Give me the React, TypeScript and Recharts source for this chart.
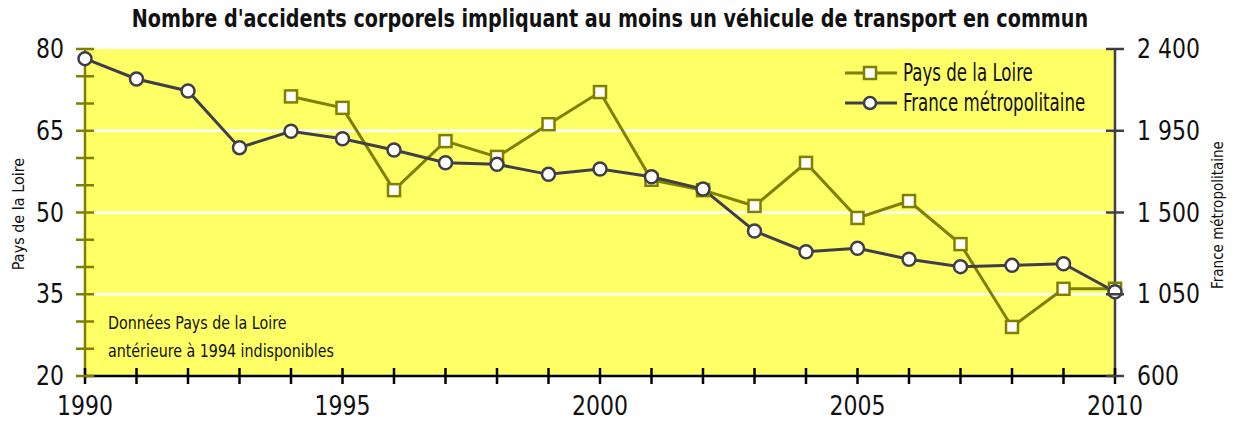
import React from 'react';
import {
  LineChart,
  Line,
  XAxis,
  YAxis,
  ReferenceArea,
  ReferenceLine,
} from 'recharts';

const years = [
  1990, 1991, 1992, 1993, 1994, 1995, 1996, 1997, 1998, 1999, 2000,
  2001, 2002, 2003, 2004, 2005, 2006, 2007, 2008, 2009, 2010,
];
const paysDeLaLoire = [
  null, null, null, null, 71.3, 69.2, 54.1, 63.1, 60.2, 66.2, 72.1,
  56, 54.1, 51.2, 59.1, 49, 52.1, 44.2, 29, 36, 36,
];
const franceMetro = [
  2347, 2235, 2169, 1857, 1947, 1906, 1844, 1774, 1765, 1710, 1739,
  1697, 1629, 1398, 1284, 1303, 1243, 1202, 1209, 1218, 1064,
];
const yearTicks = years;
const leftTicks = [20, 25, 30, 35, 40, 45, 50, 55, 60, 65, 70, 75, 80];
const leftLabels = [20, 35, 50, 65, 80];
const rightTicks = [600, 1050, 1500, 1950, 2400];
const gridValues = [35, 50, 65];

const FONT = '"Liberation Sans Narrow", "DejaVu Sans Condensed", sans-serif';
const OLIVE = '#7f7f00';
const DARK = '#3f3f4a';
const YELLOW = '#ffff66';
const TICK_SX = 0.94;

const data = years.map((year, i) => ({
  year,
  pdl: paysDeLaLoire[i],
  france: franceMetro[i],
}));

const fmtThousands = (v: number) =>
  v >= 1000 ? `${Math.floor(v / 1000)} ${String(v % 1000).padStart(3, '0')}` : String(v);

// tickSize 8 + tickMargin 2 => axis line sits 10px from the tick anchor
const XTick = (props: any) => {
  const { x, y, payload } = props;
  const axisY = y - 10;
  const show = payload.value % 5 === 0;
  return (
    <g>
      <line x1={x} x2={x} y1={axisY - 8} y2={axisY + 8} stroke="#000" strokeWidth={2.5} />
      {show && (
        <text
          transform={`translate(${x},${axisY + 39}) scale(${TICK_SX},1)`}
          textAnchor="middle"
          fontSize={26}
          fontFamily={FONT}
          fill="#111"
        >
          {payload.value}
        </text>
      )}
    </g>
  );
};

const LeftTick = (props: any) => {
  const { x, y, payload } = props;
  const axisX = x + 10;
  const show = leftLabels.includes(payload.value);
  return (
    <g>
      <line x1={axisX - 9} x2={axisX + 9} y1={y} y2={y} stroke={OLIVE} strokeWidth={2.5} />
      {show && (
        <text
          transform={`translate(${axisX - 21},${y + 9}) scale(${TICK_SX},1)`}
          textAnchor="end"
          fontSize={26}
          fontFamily={FONT}
          fill="#111"
        >
          {payload.value}
        </text>
      )}
    </g>
  );
};

const RightTick = (props: any) => {
  const { x, y, payload } = props;
  const axisX = x - 10;
  return (
    <g>
      <line x1={axisX - 9} x2={axisX + 9} y1={y} y2={y} stroke={DARK} strokeWidth={2.5} />
      <text
        transform={`translate(${axisX + 22},${y + 9}) scale(${TICK_SX},1)`}
        textAnchor="start"
        fontSize={26}
        fontFamily={FONT}
        fill="#111"
      >
        {fmtThousands(payload.value)}
      </text>
    </g>
  );
};

const SquareDot = (props: any) => {
  const { cx, cy, index } = props;
  if (cx == null || cy == null || props.value == null) return <g key={`s${index}`} />;
  return (
    <rect key={`s${index}`} x={cx - 6} y={cy - 6} width={12} height={12} fill="#fff" stroke={OLIVE} strokeWidth={2.5} />
  );
};

const CircleDot = (props: any) => {
  const { cx, cy, index } = props;
  if (cx == null || cy == null) return <g key={`c${index}`} />;
  return <circle key={`c${index}`} cx={cx} cy={cy} r={6.5} fill="#fff" stroke={DARK} strokeWidth={2.5} />;
};

const legendItems = [
  { name: 'Pays de la Loire', color: OLIVE, square: true },
  { name: 'France métropolitaine', color: DARK, square: false },
];

const squeezed = (sx: number): React.CSSProperties => ({
  display: 'inline-block',
  transform: `scaleX(${sx})`,
  transformOrigin: 'left center',
  whiteSpace: 'nowrap',
});

export default function App() {
  return (
    <div style={{ position: 'relative', width: 1235, height: 423, margin: -8, fontFamily: FONT }}>
      <div
        style={{
          position: 'absolute',
          top: 4,
          left: 610,
          transform: 'translateX(-50%) scaleX(0.853)',
          whiteSpace: 'nowrap',
          fontWeight: 'bold',
          fontSize: 25,
          color: '#111',
        }}
      >
        Nombre d'accidents corporels impliquant au moins un véhicule de transport en commun
      </div>
      <LineChart
        width={1235}
        height={423}
        data={data}
        margin={{ top: 49, right: 0, bottom: 0, left: 0 }}
      >
        <ReferenceArea yAxisId="left" x1={1990} x2={2010} y1={20} y2={80} fill={YELLOW} fillOpacity={1} stroke="none" />
        {gridValues.map((v) => (
          <ReferenceLine key={v} yAxisId="left" y={v} stroke="#fff" strokeWidth={2.5} />
        ))}
        <XAxis
          dataKey="year"
          type="number"
          domain={[1990, 2010]}
          ticks={yearTicks}
          interval={0}
          height={47}
          tickSize={8}
          tickMargin={2}
          tickLine={false}
          axisLine={{ stroke: '#000', strokeWidth: 2.5 }}
          tick={<XTick />}
        />
        <YAxis
          yAxisId="left"
          domain={[20, 80]}
          ticks={leftTicks}
          interval={0}
          width={85}
          tickSize={8}
          tickMargin={2}
          tickLine={false}
          axisLine={{ stroke: OLIVE, strokeWidth: 2.5 }}
          tick={<LeftTick />}
        />
        <YAxis
          yAxisId="right"
          orientation="right"
          domain={[600, 2400]}
          ticks={rightTicks}
          interval={0}
          width={120}
          tickSize={8}
          tickMargin={2}
          tickLine={false}
          axisLine={{ stroke: DARK, strokeWidth: 2.5 }}
          tick={<RightTick />}
        />
        <Line
          yAxisId="left"
          dataKey="pdl"
          name="Pays de la Loire"
          stroke={OLIVE}
          strokeWidth={3}
          dot={SquareDot}
          activeDot={false}
          isAnimationActive={false}
        />
        <Line
          yAxisId="right"
          dataKey="france"
          name="France métropolitaine"
          stroke={DARK}
          strokeWidth={3}
          dot={CircleDot}
          activeDot={false}
          isAnimationActive={false}
        />
      </LineChart>
      <div style={{ position: 'absolute', left: 843, top: 58, fontSize: 25, color: '#111', lineHeight: '30px' }}>
        {legendItems.map((item) => (
          <div key={item.name} style={{ display: 'flex', alignItems: 'center', height: 30 }}>
            <svg width={56} height={30}>
              <line x1={2} x2={54} y1={15} y2={15} stroke={item.color} strokeWidth={3} />
              {item.square ? (
                <rect x={21} y={9} width={12} height={12} fill="#fff" stroke={item.color} strokeWidth={2.5} />
              ) : (
                <circle cx={27} cy={15} r={6} fill="#fff" stroke={item.color} strokeWidth={2.5} />
              )}
            </svg>
            <span style={{ ...squeezed(0.74), marginLeft: 4 }}>{item.name}</span>
          </div>
        ))}
      </div>
      <div
        style={{
          position: 'absolute',
          left: 18,
          top: 214,
          transform: 'translate(-50%, -50%) rotate(-90deg)',
          whiteSpace: 'nowrap',
          fontSize: 16,
          color: '#111',
        }}
      >
        Pays de la Loire
      </div>
      <div
        style={{
          position: 'absolute',
          left: 1218,
          top: 215,
          transform: 'translate(-50%, -50%) rotate(-90deg)',
          whiteSpace: 'nowrap',
          fontSize: 15,
          color: '#111',
        }}
      >
        France métropolitaine
      </div>
      <div
        style={{
          position: 'absolute',
          left: 108,
          top: 309,
          fontSize: 18,
          lineHeight: '28px',
          color: '#111',
        }}
      >
        <span style={squeezed(0.88)}>Données Pays de la Loire</span>
        <br />
        <span style={squeezed(0.88)}>antérieure à 1994 indisponibles</span>
      </div>
    </div>
  );
}
